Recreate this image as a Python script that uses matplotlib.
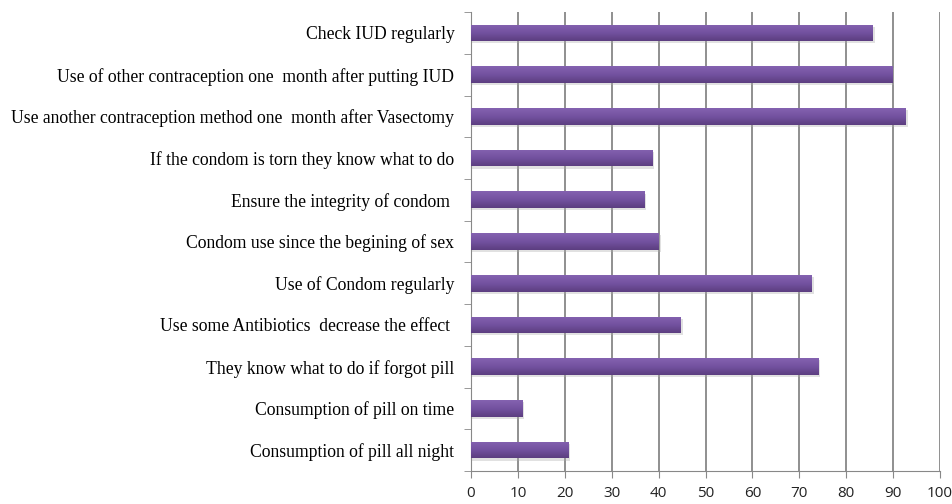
import numpy as np
import matplotlib
matplotlib.use("Agg")
from matplotlib import pyplot as plt
from matplotlib.colors import LinearSegmentedColormap

# categories listed bottom to top
labels = [
    "Consumption of pill all night",
    "Consumption of pill on time",
    "They know what to do if forgot pill",
    "Use some Antibiotics  decrease the effect ",
    "Use of Condom regularly",
    "Condom use since the begining of sex",
    "Ensure the integrity of condom ",
    "If the condom is torn they know what to do",
    "Use another contraception method one  month after Vasectomy",
    "Use of other contraception one  month after putting IUD",
    "Check IUD regularly",
]
values = [20.7, 10.9, 74.1, 44.7, 72.7, 40.0, 36.9, 38.6, 92.7, 89.8, 85.7]
x_ticks = [0, 10, 20, 30, 40, 50, 60, 70, 80, 90, 100]

fig = plt.figure(figsize=(9.52, 5.04), dpi=100)
ax = fig.add_axes([0.4948, 0.0655, 0.4926, 0.9105])

y = np.arange(len(labels))
bars = ax.barh(y, values, height=0.4, color="#6f4f9c", zorder=3)

# vertical purple gradient inside every bar (light top, dark bottom)
cmap = LinearSegmentedColormap.from_list("purp", ["#5c3e80", "#7352a0", "#8462b0"])
grad = np.linspace(0, 1, 64).reshape(-1, 1)
for b in bars:
    x0, y0 = b.get_x(), b.get_y()
    w, h = b.get_width(), b.get_height()
    im = ax.imshow(grad, cmap=cmap, aspect="auto", origin="lower",
                   extent=[x0, x0 + w, y0, y0 + h], zorder=4)
    im.set_clip_path(b)
    # soft drop shadow
    ax.barh(y0 + h / 2 - 0.05, w + 0.4, height=h, left=x0,
            color="#aaaaaa", alpha=0.35, zorder=2, linewidth=0)

ax.set_xlim(0, 100)
ax.set_ylim(-0.5, len(labels) - 0.5)
ax.set_xticks(x_ticks)
ax.set_xticklabels([str(t) for t in x_ticks], family="Open Sans", fontsize=11,
                   color="#222222")

ax.set_yticks(y)
ax.set_yticklabels(labels, family="Liberation Serif", fontsize=12.7)
ax.set_yticks(np.arange(-0.5, len(labels), 1), minor=True)
ax.tick_params(axis="y", which="major", length=0, pad=12)
ax.tick_params(axis="y", which="minor", length=5, color="#888888")
ax.tick_params(axis="x", length=5, color="#888888", pad=6)

ax.grid(axis="x", color="#8f8f8f", linewidth=1.4, zorder=0)
for side in ["top", "right"]:
    ax.spines[side].set_visible(False)
ax.spines["left"].set_color("#888888")
ax.spines["bottom"].set_color("#888888")

fig.savefig("out.png", dpi=100)
